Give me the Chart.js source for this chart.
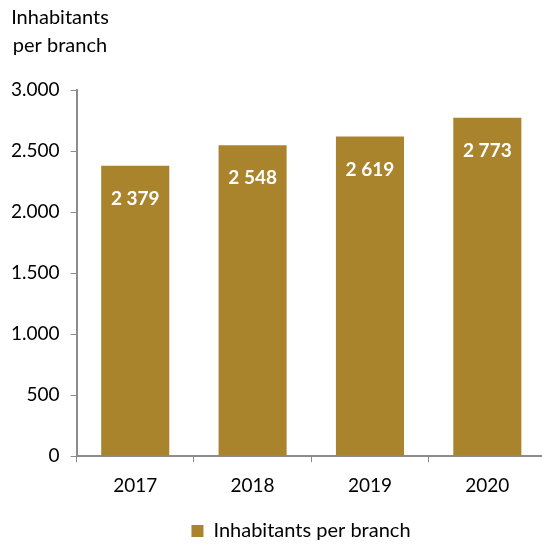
<!DOCTYPE html>
<html>
<head>
<meta charset="utf-8">
<script src="https://cdn.jsdelivr.net/npm/chart.js@4"></script>
<style>
  html, body { margin: 0; padding: 0; background: #ffffff; overflow: hidden; }
  #wrap { position: relative; width: 546px; height: 544px; }
</style>
</head>
<body>
<div id="wrap"><canvas id="c"></canvas></div>
<script>
// Inhabitants per bank branch, by year
const years = ['2017', '2018', '2019', '2020'];
const inhabitantsPerBranch = [2379, 2548, 2619, 2773];
const seriesName = 'Inhabitants per branch';
const axisTitle = ['Inhabitants', 'per branch'];

const FONT = 'Lato, "Open Sans", sans-serif';
const GOLD = '#A9842D';
const AXIS = '#8c8c8c';

// thousands separated with a space for bar values, a dot for axis ticks
const fmtSpace = v => String(v).replace(/\B(?=(\d{3})+(?!\d))/g, ' ');
const fmtDot = v => String(v).replace(/\B(?=(\d{3})+(?!\d))/g, '.');

const valueLabels = {
  id: 'valueLabels',
  afterDatasetsDraw(chart) {
    const ctx = chart.ctx;
    const meta = chart.getDatasetMeta(0);
    ctx.save();
    ctx.fillStyle = '#ffffff';
    ctx.font = 'bold 19px ' + FONT;
    ctx.textAlign = 'center';
    ctx.textBaseline = 'middle';
    meta.data.forEach((bar, i) => {
      ctx.fillText(fmtSpace(chart.data.datasets[0].data[i]), bar.x, bar.y + 33);
    });
    ctx.restore();
  }
};

const axisTitlePlugin = {
  id: 'axisTitlePlugin',
  afterDraw(chart) {
    const ctx = chart.ctx;
    ctx.save();
    ctx.fillStyle = '#000000';
    ctx.font = '20px ' + FONT;
    ctx.textAlign = 'center';
    ctx.textBaseline = 'middle';
    const cx = 60;
    axisTitle.forEach((line, i) => ctx.fillText(line, cx, 18 + i * 28));
    ctx.restore();
  }
};

// nudge the legend so it sits under the plot rather than the page centre
const legendShift = {
  id: 'legendShift',
  afterLayout(chart) {
    const lg = chart.legend;
    if (!lg) return;
    const dx = 28, dy = 7;
    lg.left += dx;
    lg.right += dx;
    lg.top += dy;
    lg.bottom += dy;
    (lg.legendHitBoxes || []).forEach(b => { b.left += dx; b.top += dy; });
  }
};

new Chart(document.getElementById('c'), {
  type: 'bar',
  data: {
    labels: years,
    datasets: [{
      label: seriesName,
      data: inhabitantsPerBranch,
      backgroundColor: GOLD,
      borderWidth: 0,
      barPercentage: 0.58,
      categoryPercentage: 1.0
    }]
  },
  options: {
    responsive: true,
    maintainAspectRatio: false,
    animation: false,
    layout: { padding: { top: 90, left: 0, right: 0, bottom: 0 } },
    plugins: {
      legend: {
        position: 'bottom',
        labels: {
          boxWidth: 12,
          boxHeight: 12,
          color: '#000000',
          font: { family: FONT, size: 20 },
          padding: 4
        }
      },
      tooltip: { enabled: false }
    },
    scales: {
      x: {
        grid: { drawOnChartArea: false, drawTicks: true, tickLength: 6, color: AXIS, offset: true },
        border: { color: AXIS, width: 2 },
        ticks: { color: '#000000', font: { family: FONT, size: 19 }, padding: 12 },
        afterFit(scale) { scale.height += 1; }
      },
      y: {
        min: 0,
        max: 3000,
        grid: { drawOnChartArea: false, drawTicks: true, tickLength: 6, color: AXIS },
        border: { color: AXIS, width: 2 },
        ticks: {
          stepSize: 500,
          color: '#000000',
          font: { family: FONT, size: 19 },
          padding: 11,
          callback: v => fmtDot(v)
        }
      }
    }
  },
  plugins: [valueLabels, axisTitlePlugin, legendShift]
});
</script>
</body>
</html>
